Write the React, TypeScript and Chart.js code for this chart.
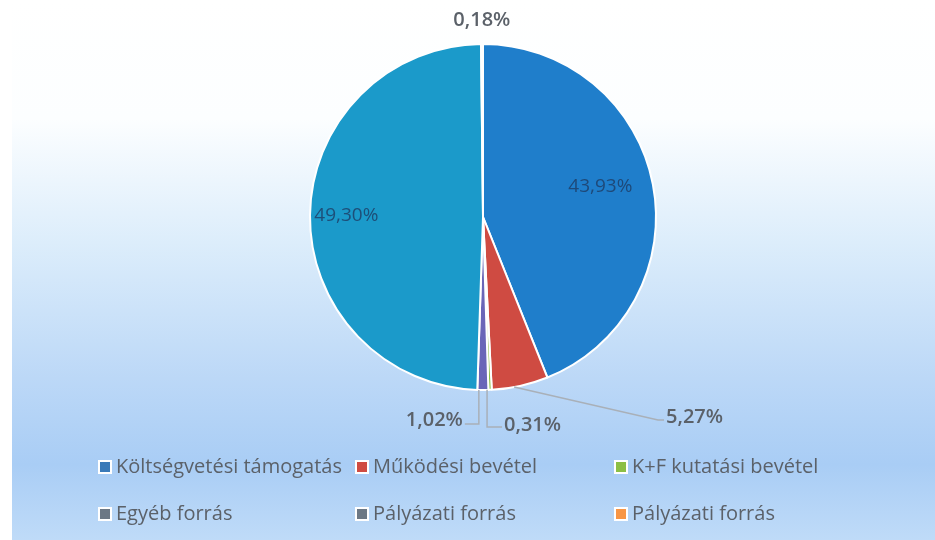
import React, { useEffect, useRef } from "react";
import { Chart, registerables } from "chart.js";

Chart.register(...registerables);

const categories = [
  "Költségvetési támogatás",
  "Működési bevétel",
  "K+F kutatási bevétel",
  "Egyéb forrás",
  "Pályázati forrás",
  "Pályázati forrás",
];
const shares = [43.93, 5.27, 0.31, 1.02, 49.3, 0.18];
const sliceColors = ["#1f7ecb", "#cf4b42", "#8cbf45", "#6a66b8", "#1b9aca", "#f79646"];
const legendMarkerColors = ["#3a7ab8", "#cf4b42", "#8cbf45", "#6c7885", "#6c7885", "#f79646"];

const fmt = (v: number) => v.toFixed(2).replace(".", ",") + "%";

const bgPlugin = {
  id: "bg",
  beforeDraw(chart: any) {
    const { ctx, width, height } = chart;
    ctx.save();
    ctx.fillStyle = "#ffffff";
    ctx.fillRect(0, 0, width, height);
    const g = ctx.createLinearGradient(0, 0, 0, height);
    g.addColorStop(0, "#ffffff");
    g.addColorStop(0.22, "#fcfeff");
    g.addColorStop(0.45, "#dcedfb");
    g.addColorStop(0.7, "#bcd8f7");
    g.addColorStop(0.86, "#a9cdf5");
    g.addColorStop(1, "#bfdbf8");
    ctx.fillStyle = g;
    ctx.fillRect(12, 0, width - 12, height);
    ctx.restore();
  },
};

const labelPlugin = {
  id: "sliceLabels",
  afterDatasetsDraw(chart: any) {
    const { ctx } = chart;
    const meta = chart.getDatasetMeta(0);
    const data = chart.data.datasets[0].data as number[];
    ctx.save();
    meta.data.forEach((arc: any, i: number) => {
      const { x: cx, y: cy, startAngle, endAngle, outerRadius: r } = arc.getProps(
        ["x", "y", "startAngle", "endAngle", "outerRadius"],
        true
      );
      const mid = (startAngle + endAngle) / 2;
      const text = fmt(data[i]);
      const ex = cx + Math.cos(mid) * r;
      const ey = cy + Math.sin(mid) * r;
      ctx.textBaseline = "middle";
      if (i === 0 || i === 4) {
        const frac = i === 0 ? 0.7 : 0.79;
        const a = i === 0 ? mid - 0.06 : mid;
        ctx.font = "400 19px 'Open Sans'";
        ctx.fillStyle = "rgba(30,60,100,0.8)";
        ctx.textAlign = "center";
        ctx.fillText(text, cx + Math.cos(a) * r * frac, cy + Math.sin(a) * r * frac);
        return;
      }
      ctx.font = "600 20px 'Open Sans'";
      ctx.fillStyle = "#5b6169";
      ctx.strokeStyle = "#a9b0b8";
      ctx.lineWidth = 1.5;
      if (i === 5) {
        ctx.textAlign = "center";
        ctx.fillText(text, cx + Math.cos(mid) * (r + 26), cy + Math.sin(mid) * (r + 26) + 2);
      } else if (i === 3) {
        const ly = cy + r + 34;
        ctx.beginPath();
        ctx.moveTo(ex - 4, ey);
        ctx.lineTo(ex - 4, ly);
        ctx.lineTo(ex - 18, ly);
        ctx.stroke();
        ctx.textAlign = "right";
        ctx.fillText(text, ex - 20, ly - 4);
      } else if (i === 2) {
        const ly = cy + r + 37;
        ctx.beginPath();
        ctx.moveTo(ex - 3, ey);
        ctx.lineTo(ex - 3, ly);
        ctx.lineTo(ex + 12, ly);
        ctx.stroke();
        ctx.textAlign = "left";
        ctx.fillText(text, ex + 14, ly - 2);
      } else if (i === 1) {
        const lx = cx + r + 8;
        const ly = cy + r + 30;
        ctx.beginPath();
        ctx.moveTo(ex - 6, ey + 1);
        ctx.lineTo(lx - 6, ly);
        ctx.lineTo(lx, ly);
        ctx.stroke();
        ctx.textAlign = "left";
        ctx.fillText(text, lx + 2, ly - 3);
      }
    });
    ctx.restore();
  },
};

const legendPlugin = {
  id: "gridLegend",
  afterDraw(chart: any) {
    const { ctx } = chart;
    const names = chart.data.labels as string[];
    const colX = [100, 357, 616];
    const rowY = [467, 514];
    ctx.save();
    ctx.font = "400 20px 'Open Sans'";
    ctx.textBaseline = "middle";
    ctx.textAlign = "left";
    names.forEach((name, i) => {
      const x = colX[i % 3];
      const y = rowY[Math.floor(i / 3)];
      ctx.fillStyle = "#ffffff";
      ctx.fillRect(x - 2, y - 7, 14, 14);
      ctx.fillStyle = legendMarkerColors[i];
      ctx.fillRect(x, y - 5, 10, 10);
      ctx.fillStyle = "#5b6169";
      ctx.fillText(name, x + 16, y);
    });
    ctx.restore();
  },
};

export default function App() {
  const ref = useRef<HTMLCanvasElement | null>(null);
  useEffect(() => {
    document.body.style.margin = "0";
    if (!ref.current) return;
    const chart = new Chart(ref.current, {
      type: "pie",
      data: {
        labels: categories,
        datasets: [
          {
            data: shares,
            backgroundColor: sliceColors,
            borderColor: "#ffffff",
            borderWidth: 2,
          },
        ],
      },
      options: {
        responsive: false,
        animation: false,
        layout: { padding: { left: 309, right: 278, top: 43, bottom: 149 } },
        plugins: {
          legend: { display: false },
          tooltip: { enabled: false },
        },
      },
      plugins: [bgPlugin, labelPlugin, legendPlugin],
    });
    return () => chart.destroy();
  }, []);
  return (
    <div style={{ width: 935, height: 540 }}>
      <canvas ref={ref} width={935} height={540} style={{ display: "block" }} />
    </div>
  );
}
